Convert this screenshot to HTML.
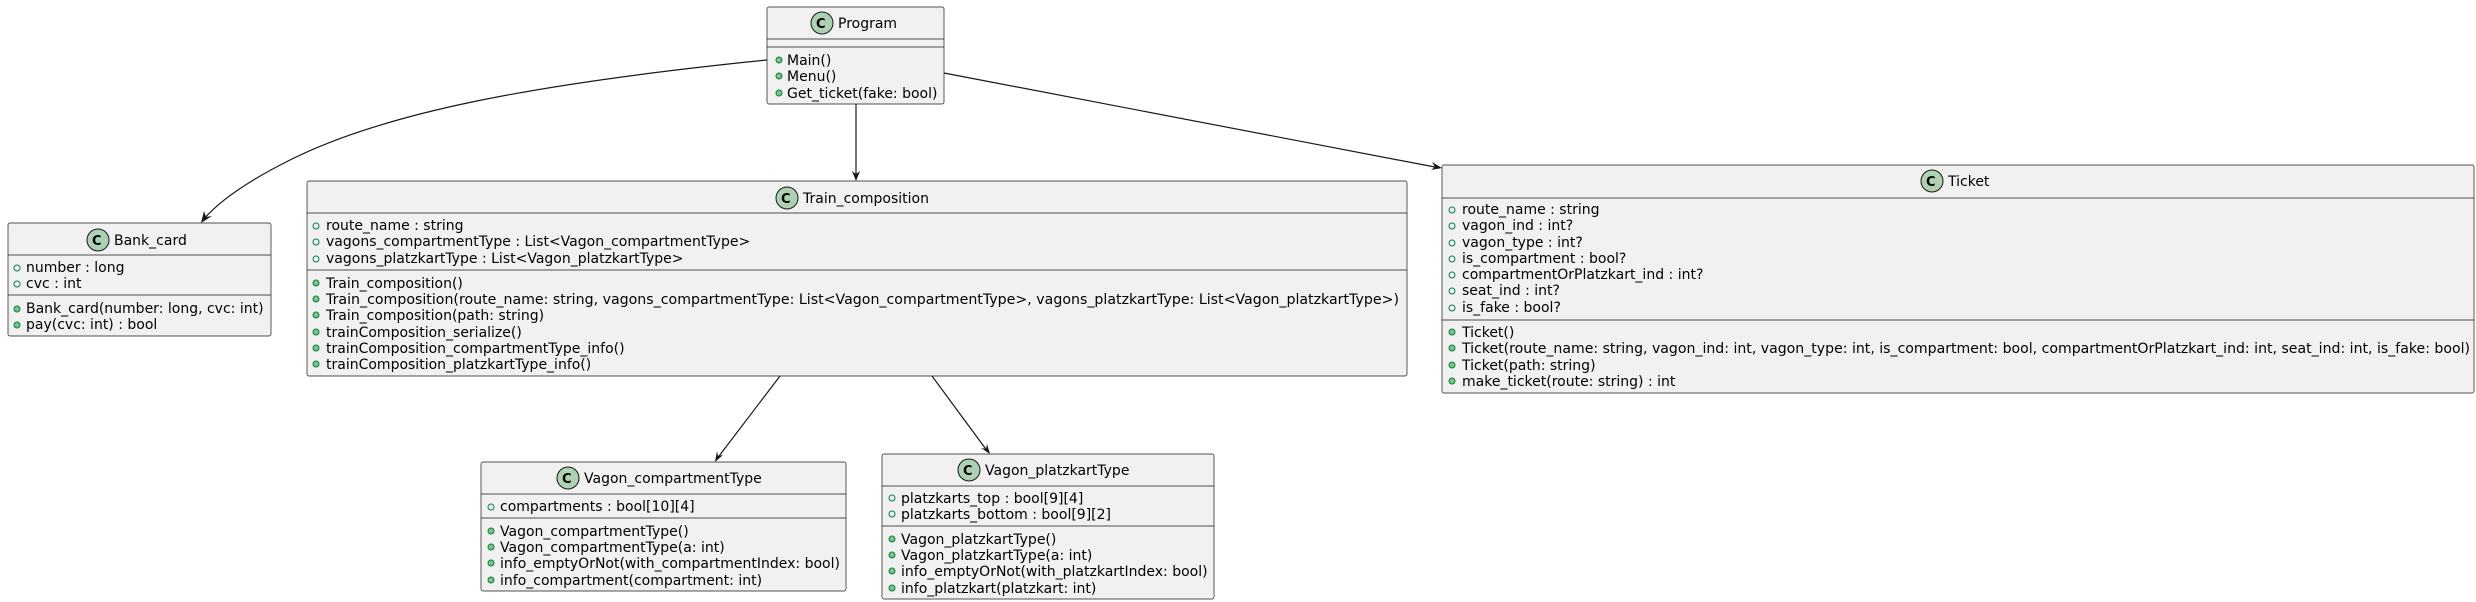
<!DOCTYPE html>
<html><head><meta charset="utf-8"><style>
html,body{margin:0;padding:0;background:#fff;width:2476px;height:602px;overflow:hidden}
text{font-family:"DejaVu Sans","Liberation Sans",sans-serif;font-size:14px;fill:#000}
.box{fill:#F1F1F1;stroke:#181818;stroke-width:0.7}
.ln{stroke:#181818;stroke-width:0.7}
.a{fill:none;stroke:#038048;stroke-width:1}
.m{fill:#84BE84;stroke:#038048;stroke-width:1}
.ci{fill:#ADD1B2;stroke:#181818;stroke-width:1}
.e{fill:none;stroke:#181818;stroke-width:1.2}
.h{fill:#181818}
</style></head><body>
<svg width="2476" height="602" xmlns="http://www.w3.org/2000/svg">
<!-- edges -->
<path class="e" d="M767,60 C520,85 380,115 290,160 C250,180 220,200 203,220"/>
<polygon class="h" points="201,223 204,211 206,217 212,216"/>
<line class="e" x1="856" y1="104" x2="856" y2="179"/>
<polygon class="h" points="856,181 852,171 856,174 860,171"/>
<line class="e" x1="944" y1="73" x2="1440" y2="168"/>
<polygon class="h" points="1442,168 1431,170 1435,167 1432,162"/>
<line class="e" x1="780" y1="376" x2="716" y2="460"/>
<polygon class="h" points="715,462 717,451 718,456 723,455"/>
<line class="e" x1="932" y1="376" x2="988" y2="452"/>
<polygon class="h" points="990,454 981,448 986,449 987,444"/>

<!-- Program -->
<rect class="box" x="767" y="7" width="177" height="97" rx="2"/>
<line class="ln" x1="767" y1="39" x2="944" y2="39"/>
<line class="ln" x1="767" y1="47" x2="944" y2="47"/>
<circle class="ci" cx="822" cy="23" r="11"/><text x="816" y="28" style="font-size:13px;font-weight:bold">C</text>
<text x="838" y="28">Program</text>
<circle class="m" cx="779" cy="60" r="3"/><text x="787" y="65">Main()</text>
<circle class="m" cx="779" cy="76" r="3"/><text x="787" y="81">Menu()</text>
<circle class="m" cx="779" cy="93" r="3"/><text x="787" y="98">Get_ticket(fake: bool)</text>

<!-- Bank_card -->
<rect class="box" x="8" y="223" width="263" height="113" rx="2"/>
<line class="ln" x1="8" y1="255" x2="271" y2="255"/>
<line class="ln" x1="8" y1="295" x2="271" y2="295"/>
<circle class="ci" cx="98" cy="240" r="11"/><text x="92" y="245" style="font-size:13px;font-weight:bold">C</text>
<text x="114" y="245">Bank_card</text>
<circle class="a" cx="17" cy="268" r="3"/><text x="26" y="272">number : long</text>
<circle class="a" cx="17" cy="284" r="3"/><text x="26" y="288">cvc : int</text>
<circle class="m" cx="17" cy="309" r="3"/><text x="26" y="313">Bank_card(number: long, cvc: int)</text>
<circle class="m" cx="17" cy="325" r="3"/><text x="26" y="329">pay(cvc: int) : bool</text>

<!-- Train_composition -->
<rect class="box" x="307" y="181" width="1100" height="195" rx="2"/>
<line class="ln" x1="307" y1="213" x2="1407" y2="213"/>
<line class="ln" x1="307" y1="270" x2="1407" y2="270"/>
<circle class="ci" cx="787" cy="198" r="11"/><text x="781" y="203" style="font-size:13px;font-weight:bold">C</text>
<text x="803" y="203">Train_composition</text>
<circle class="a" cx="316" cy="226" r="3"/><text x="326" y="230">route_name : string</text>
<circle class="a" cx="316" cy="242" r="3"/><text x="326" y="246">vagons_compartmentType : List&lt;Vagon_compartmentType&gt;</text>
<circle class="a" cx="316" cy="259" r="3"/><text x="326" y="263">vagons_platzkartType : List&lt;Vagon_platzkartType&gt;</text>
<circle class="m" cx="316" cy="283" r="3"/><text x="326" y="288">Train_composition()</text>
<circle class="m" cx="316" cy="299" r="3"/><text x="326" y="304" textLength="1073" lengthAdjust="spacingAndGlyphs">Train_composition(route_name: string, vagons_compartmentType: List&lt;Vagon_compartmentType&gt;, vagons_platzkartType: List&lt;Vagon_platzkartType&gt;)</text>
<circle class="m" cx="316" cy="315" r="3"/><text x="326" y="320">Train_composition(path: string)</text>
<circle class="m" cx="316" cy="332" r="3"/><text x="326" y="337">trainComposition_serialize()</text>
<circle class="m" cx="316" cy="348" r="3"/><text x="326" y="353">trainComposition_compartmentType_info()</text>
<circle class="m" cx="316" cy="364" r="3"/><text x="326" y="369">trainComposition_platzkartType_info()</text>

<!-- Ticket -->
<rect class="box" x="1442" y="165" width="1032" height="228" rx="2"/>
<line class="ln" x1="1442" y1="198" x2="2474" y2="198"/>
<line class="ln" x1="1442" y1="320" x2="2474" y2="320"/>
<circle class="ci" cx="1932" cy="181" r="11"/><text x="1926" y="186" style="font-size:13px;font-weight:bold">C</text>
<text x="1948" y="186">Ticket</text>
<circle class="a" cx="1452" cy="210" r="3"/><text x="1462" y="214">route_name : string</text>
<circle class="a" cx="1452" cy="226" r="3"/><text x="1462" y="230">vagon_ind : int?</text>
<circle class="a" cx="1452" cy="243" r="3"/><text x="1462" y="247">vagon_type : int?</text>
<circle class="a" cx="1452" cy="259" r="3"/><text x="1462" y="263">is_compartment : bool?</text>
<circle class="a" cx="1452" cy="275" r="3"/><text x="1462" y="279">compartmentOrPlatzkart_ind : int?</text>
<circle class="a" cx="1452" cy="291" r="3"/><text x="1462" y="295">seat_ind : int?</text>
<circle class="a" cx="1452" cy="308" r="3"/><text x="1462" y="312">is_fake : bool?</text>
<circle class="m" cx="1452" cy="332" r="3"/><text x="1462" y="337">Ticket()</text>
<circle class="m" cx="1452" cy="348" r="3"/><text x="1462" y="353" textLength="1008" lengthAdjust="spacingAndGlyphs">Ticket(route_name: string, vagon_ind: int, vagon_type: int, is_compartment: bool, compartmentOrPlatzkart_ind: int, seat_ind: int, is_fake: bool)</text>
<circle class="m" cx="1452" cy="365" r="3"/><text x="1462" y="370">Ticket(path: string)</text>
<circle class="m" cx="1452" cy="381" r="3"/><text x="1462" y="386">make_ticket(route: string) : int</text>

<!-- Vagon_compartmentType -->
<rect class="box" x="481" y="462" width="365" height="129" rx="2"/>
<line class="ln" x1="481" y1="494" x2="846" y2="494"/>
<line class="ln" x1="481" y1="518" x2="846" y2="518"/>
<circle class="ci" cx="568" cy="478" r="11"/><text x="562" y="483" style="font-size:13px;font-weight:bold">C</text>
<text x="584" y="483">Vagon_compartmentType</text>
<circle class="a" cx="491" cy="507" r="3"/><text x="500" y="511">compartments : bool[10][4]</text>
<circle class="m" cx="491" cy="531" r="3"/><text x="500" y="536">Vagon_compartmentType()</text>
<circle class="m" cx="491" cy="547" r="3"/><text x="500" y="552">Vagon_compartmentType(a: int)</text>
<circle class="m" cx="491" cy="563" r="3"/><text x="500" y="568">info_emptyOrNot(with_compartmentIndex: bool)</text>
<circle class="m" cx="491" cy="580" r="3"/><text x="500" y="585">info_compartment(compartment: int)</text>

<!-- Vagon_platzkartType -->
<rect class="box" x="882" y="454" width="332" height="145" rx="2"/>
<line class="ln" x1="882" y1="486" x2="1214" y2="486"/>
<line class="ln" x1="882" y1="526" x2="1214" y2="526"/>
<circle class="ci" cx="969" cy="470" r="11"/><text x="963" y="475" style="font-size:13px;font-weight:bold">C</text>
<text x="985" y="475">Vagon_platzkartType</text>
<circle class="a" cx="892" cy="498" r="3"/><text x="901" y="503">platzkarts_top : bool[9][4]</text>
<circle class="a" cx="892" cy="514" r="3"/><text x="901" y="519">platzkarts_bottom : bool[9][2]</text>
<circle class="m" cx="892" cy="539" r="3"/><text x="901" y="544">Vagon_platzkartType()</text>
<circle class="m" cx="892" cy="555" r="3"/><text x="901" y="560">Vagon_platzkartType(a: int)</text>
<circle class="m" cx="892" cy="571" r="3"/><text x="901" y="576">info_emptyOrNot(with_platzkartIndex: bool)</text>
<circle class="m" cx="892" cy="588" r="3"/><text x="901" y="593">info_platzkart(platzkart: int)</text>
</svg>
</body></html>
